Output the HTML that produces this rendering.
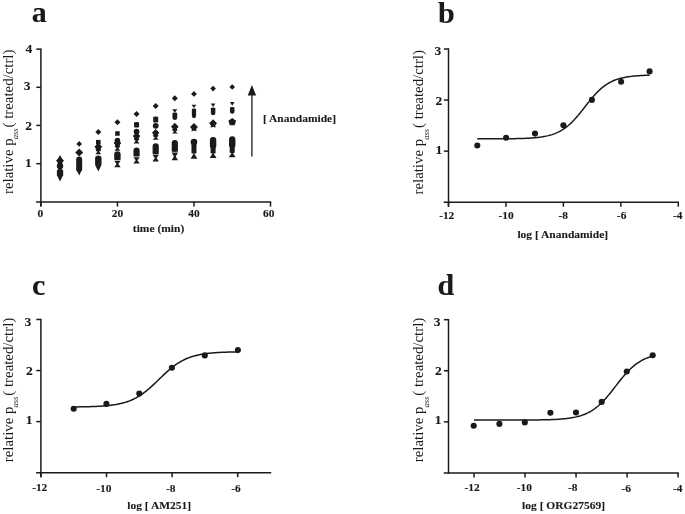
<!DOCTYPE html>
<html><head><meta charset="utf-8"><style>
html,body{margin:0;padding:0;background:#fff;}
svg{display:block;filter:blur(0.3px);font-family:"Liberation Serif",serif;fill:#1a1a1a;}
text[font-weight="bold"]{stroke:#1a1a1a;stroke-width:0.12px;}
</style></head><body>
<svg width="685" height="514" viewBox="0 0 685 514">
<rect width="685" height="514" fill="#fff"/>
<line x1="40.90" y1="48.40" x2="40.90" y2="206.60" stroke="#1a1a1a" stroke-width="1.5"/>
<line x1="36.30" y1="49.15" x2="40.90" y2="49.15" stroke="#1a1a1a" stroke-width="1.5"/>
<line x1="36.30" y1="87.30" x2="40.90" y2="87.30" stroke="#1a1a1a" stroke-width="1.5"/>
<line x1="36.30" y1="125.40" x2="40.90" y2="125.40" stroke="#1a1a1a" stroke-width="1.5"/>
<line x1="36.30" y1="163.70" x2="40.90" y2="163.70" stroke="#1a1a1a" stroke-width="1.5"/>
<line x1="36.10" y1="202.10" x2="271.25" y2="202.10" stroke="#1a1a1a" stroke-width="1.5"/>
<line x1="40.90" y1="202.10" x2="40.90" y2="206.60" stroke="#1a1a1a" stroke-width="1.5"/>
<line x1="117.43" y1="202.10" x2="117.43" y2="206.60" stroke="#1a1a1a" stroke-width="1.5"/>
<line x1="193.97" y1="202.10" x2="193.97" y2="206.60" stroke="#1a1a1a" stroke-width="1.5"/>
<line x1="270.50" y1="202.10" x2="270.50" y2="206.60" stroke="#1a1a1a" stroke-width="1.5"/>
<text x="25.51" y="52.84" font-size="13.5" font-weight="bold">4</text>
<text x="23.85" y="89.80" font-size="13.5" font-weight="bold">3</text>
<text x="25.23" y="129.67" font-size="13.5" font-weight="bold">2</text>
<text x="25.08" y="166.91" font-size="13.5" font-weight="bold">1</text>
<text x="37.40" y="216.99" font-size="11.4" font-weight="bold">0</text>
<text x="111.83" y="216.94" font-size="11.4" font-weight="bold">20</text>
<text x="188.34" y="217.09" font-size="11.4" font-weight="bold">40</text>
<text x="263.02" y="216.74" font-size="11.4" font-weight="bold">60</text>
<path d="M60.03,155.00L62.53,160.00L57.53,160.00Z" fill="#1a1a1a"/>
<polygon points="60.03,157.70 61.39,160.03 64.03,160.60 62.23,162.61 62.50,165.30 60.03,164.21 57.56,165.30 57.84,162.61 56.04,160.60 58.68,160.03" fill="#1a1a1a"/><polygon points="60.03,158.18 62.91,160.27 61.81,163.65 58.26,163.65 57.16,160.27" fill="#1a1a1a"/><path d="M60.03,156.62L63.81,160.40L60.03,164.18L56.25,160.40Z" fill="#1a1a1a"/>
<circle cx="60.03" cy="166.10" r="3.2" fill="#1a1a1a"/>
<path d="M57.03,166.60L63.03,166.60L60.93,168.60L63.03,170.60L57.03,170.60L59.13,168.60Z" fill="#1a1a1a"/>
<path d="M56.88,170.50A3.15,1.00 0 0 1 63.18,170.50L63.18,175.50A3.15,1.00 0 0 1 56.88,175.50Z" fill="#1a1a1a"/>
<path d="M60.03,181.50L63.18,175.10L56.88,175.10Z" fill="#1a1a1a"/>
<path d="M79.17,141.10L81.97,143.90L79.17,146.70L76.37,143.90Z" fill="#1a1a1a"/>
<path d="M79.17,148.50L83.17,152.50L79.17,156.50L75.17,152.50Z" fill="#1a1a1a"/>
<path d="M76.17,159.50A3.00,3.00 0 0 1 82.17,159.50L82.17,169.50A3.00,2.00 0 0 1 76.17,169.50Z" fill="#1a1a1a"/>
<path d="M79.17,175.40L82.17,169.20L76.17,169.20Z" fill="#1a1a1a"/>
<path d="M98.30,129.10L101.30,132.10L98.30,135.10L95.30,132.10Z" fill="#1a1a1a"/>
<rect x="96.00" y="139.90" width="4.60" height="4.60" fill="#1a1a1a"/>
<polygon points="98.30,144.00 99.63,146.28 102.20,146.83 100.44,148.80 100.71,151.42 98.30,150.35 95.89,151.42 96.16,148.80 94.40,146.83 96.97,146.28" fill="#1a1a1a"/><polygon points="98.30,144.45 101.11,146.49 100.04,149.79 96.56,149.79 95.49,146.49" fill="#1a1a1a"/><path d="M98.30,142.91L101.99,146.60L98.30,150.29L94.61,146.60Z" fill="#1a1a1a"/>
<path d="M95.30,149.30L101.30,149.30L99.20,151.80L101.30,154.30L95.30,154.30L97.40,151.80Z" fill="#1a1a1a"/>
<path d="M95.10,158.00A3.20,2.50 0 0 1 101.50,158.00L101.50,164.50A3.20,1.00 0 0 1 95.10,164.50Z" fill="#1a1a1a"/>
<path d="M98.30,171.50L101.50,164.90L95.10,164.90Z" fill="#1a1a1a"/>
<path d="M117.43,119.30L120.43,122.30L117.43,125.30L114.43,122.30Z" fill="#1a1a1a"/>
<rect x="115.18" y="131.25" width="4.50" height="4.50" fill="#1a1a1a"/>
<circle cx="117.43" cy="140.50" r="2.8" fill="#1a1a1a"/>
<polygon points="117.43,140.30 118.73,142.52 121.24,143.06 119.53,144.98 119.78,147.54 117.43,146.50 115.08,147.54 115.34,144.98 113.63,143.06 116.14,142.52" fill="#1a1a1a"/><polygon points="117.43,140.72 120.17,142.71 119.13,145.93 115.74,145.93 114.69,142.71" fill="#1a1a1a"/><path d="M117.43,139.20L121.03,142.80L117.43,146.40L113.83,142.80Z" fill="#1a1a1a"/>
<path d="M114.43,145.70L120.43,145.70L118.33,148.20L120.43,150.70L114.43,150.70L116.53,148.20Z" fill="#1a1a1a"/>
<path d="M114.23,154.20A3.20,3.00 0 0 1 120.63,154.20L120.63,159.70A3.20,0.50 0 0 1 114.23,159.70Z" fill="#1a1a1a"/>
<path d="M114.23,160.80L120.63,160.80L118.33,164.00L120.63,167.20L114.23,167.20L116.53,164.00Z" fill="#1a1a1a"/>
<path d="M136.57,111.10L139.57,114.10L136.57,117.10L133.57,114.10Z" fill="#1a1a1a"/>
<path d="M134.07,122.40A2.50,0.50 0 0 1 139.07,122.40L139.07,126.90A2.50,0.50 0 0 1 134.07,126.90Z" fill="#1a1a1a"/>
<circle cx="136.57" cy="131.60" r="2.9" fill="#1a1a1a"/>
<polygon points="136.57,133.40 137.83,135.56 140.28,136.09 138.61,137.96 138.86,140.46 136.57,139.45 134.27,140.46 134.53,137.96 132.86,136.09 135.31,135.56" fill="#1a1a1a"/><polygon points="136.57,133.79 139.24,135.73 138.22,138.87 134.92,138.87 133.90,135.73" fill="#1a1a1a"/><path d="M136.57,132.29L140.08,135.80L136.57,139.31L133.06,135.80Z" fill="#1a1a1a"/>
<path d="M133.57,138.50L139.57,138.50L137.47,141.00L139.57,143.50L133.57,143.50L135.67,141.00Z" fill="#1a1a1a"/>
<path d="M133.47,150.50A3.10,3.10 0 0 1 139.67,150.50L139.67,156.10A3.10,0.50 0 0 1 133.47,156.10Z" fill="#1a1a1a"/>
<path d="M133.37,157.20L139.77,157.20L137.47,160.30L139.77,163.40L133.37,163.40L135.67,160.30Z" fill="#1a1a1a"/>
<path d="M155.70,102.90L158.70,105.90L155.70,108.90L152.70,105.90Z" fill="#1a1a1a"/>
<path d="M153.20,117.00A2.50,0.50 0 0 1 158.20,117.00L158.20,122.00A2.50,0.50 0 0 1 153.20,122.00Z" fill="#1a1a1a"/>
<circle cx="155.70" cy="125.80" r="2.9" fill="#1a1a1a"/>
<polygon points="155.70,130.00 156.96,132.16 159.41,132.69 157.74,134.56 157.99,137.06 155.70,136.05 153.41,137.06 153.66,134.56 151.99,132.69 154.44,132.16" fill="#1a1a1a"/><polygon points="155.70,130.39 158.37,132.33 157.35,135.47 154.05,135.47 153.03,132.33" fill="#1a1a1a"/><path d="M155.70,128.89L159.21,132.40L155.70,135.91L152.19,132.40Z" fill="#1a1a1a"/>
<path d="M152.70,135.15L158.70,135.15L156.60,137.40L158.70,139.65L152.70,139.65L154.80,137.40Z" fill="#1a1a1a"/>
<path d="M152.60,146.40A3.10,3.10 0 0 1 158.80,146.40L158.80,153.70A3.10,0.50 0 0 1 152.60,153.70Z" fill="#1a1a1a"/>
<path d="M152.50,154.70L158.90,154.70L156.60,158.10L158.90,161.50L152.50,161.50L154.80,158.10Z" fill="#1a1a1a"/>
<path d="M174.83,95.20L177.83,98.20L174.83,101.20L171.83,98.20Z" fill="#1a1a1a"/>
<path d="M174.83,112.80L177.33,109.20L172.33,109.20Z" fill="#1a1a1a"/>
<path d="M172.43,112.90A2.40,0.50 0 0 1 177.23,112.90L177.23,117.80A2.40,2.20 0 0 1 172.43,117.80Z" fill="#1a1a1a"/>
<polygon points="174.83,123.90 176.13,126.12 178.64,126.66 176.93,128.58 177.18,131.14 174.83,130.10 172.48,131.14 172.74,128.58 171.03,126.66 173.54,126.12" fill="#1a1a1a"/><polygon points="174.83,124.32 177.57,126.31 176.53,129.53 173.14,129.53 172.09,126.31" fill="#1a1a1a"/><path d="M174.83,122.80L178.43,126.40L174.83,130.00L171.23,126.40Z" fill="#1a1a1a"/>
<path d="M172.08,129.50L177.58,129.50L175.73,131.50L177.58,133.50L172.08,133.50L173.93,131.50Z" fill="#1a1a1a"/>
<path d="M171.73,143.20A3.10,3.10 0 0 1 177.93,143.20L177.93,151.50A3.10,0.50 0 0 1 171.73,151.50Z" fill="#1a1a1a"/>
<path d="M171.63,152.50L178.03,152.50L175.73,156.40L178.03,160.30L171.63,160.30L173.93,156.40Z" fill="#1a1a1a"/>
<path d="M193.97,91.00L196.87,93.90L193.97,96.80L191.07,93.90Z" fill="#1a1a1a"/>
<path d="M193.97,108.10L196.37,104.70L191.57,104.70Z" fill="#1a1a1a"/>
<path d="M191.87,109.00A2.10,0.50 0 0 1 196.07,109.00L196.07,116.10A2.10,2.10 0 0 1 191.87,116.10Z" fill="#1a1a1a"/>
<polygon points="193.97,124.10 195.29,126.38 197.87,126.93 196.11,128.90 196.38,131.52 193.97,130.45 191.56,131.52 191.82,128.90 190.07,126.93 192.64,126.38" fill="#1a1a1a"/><polygon points="193.97,124.55 196.77,126.59 195.70,129.89 192.23,129.89 191.16,126.59" fill="#1a1a1a"/><path d="M193.97,123.01L197.66,126.70L193.97,130.39L190.28,126.70Z" fill="#1a1a1a"/>
<circle cx="193.97" cy="142.00" r="3.3" fill="#1a1a1a"/>
<path d="M191.47,142.00A2.50,1.00 0 0 1 196.47,142.00L196.47,153.00A2.50,0.50 0 0 1 191.47,153.00Z" fill="#1a1a1a"/>
<path d="M193.97,153.10L197.37,158.70L190.57,158.70Z" fill="#1a1a1a"/>
<path d="M213.10,85.80L215.90,88.60L213.10,91.40L210.30,88.60Z" fill="#1a1a1a"/>
<path d="M213.10,107.00L215.40,103.60L210.80,103.60Z" fill="#1a1a1a"/>
<path d="M210.85,108.10A2.25,0.50 0 0 1 215.35,108.10L215.35,113.00A2.25,2.20 0 0 1 210.85,113.00Z" fill="#1a1a1a"/>
<polygon points="213.10,120.40 214.43,122.68 217.00,123.23 215.24,125.20 215.51,127.82 213.10,126.75 210.69,127.82 210.96,125.20 209.20,123.23 211.77,122.68" fill="#1a1a1a"/><polygon points="213.10,120.85 215.91,122.89 214.84,126.19 211.36,126.19 210.29,122.89" fill="#1a1a1a"/><path d="M213.10,119.31L216.79,123.00L213.10,126.69L209.41,123.00Z" fill="#1a1a1a"/>
<path d="M209.90,140.20A3.20,3.20 0 0 1 216.30,140.20L216.30,146.00A3.20,2.50 0 0 1 209.90,146.00Z" fill="#1a1a1a"/>
<path d="M210.60,143.00A2.50,1.00 0 0 1 215.60,143.00L215.60,153.00A2.50,0.50 0 0 1 210.60,153.00Z" fill="#1a1a1a"/>
<path d="M213.10,152.50L216.50,157.90L209.70,157.90Z" fill="#1a1a1a"/>
<path d="M232.23,84.20L235.03,87.00L232.23,89.80L229.43,87.00Z" fill="#1a1a1a"/>
<path d="M232.23,105.70L234.53,102.10L229.93,102.10Z" fill="#1a1a1a"/>
<path d="M229.98,107.50A2.25,0.50 0 0 1 234.48,107.50L234.48,111.50A2.25,2.20 0 0 1 229.98,111.50Z" fill="#1a1a1a"/>
<polygon points="232.23,117.90 236.13,120.73 234.64,125.32 229.82,125.32 228.33,120.73" fill="#1a1a1a"/>
<path d="M229.03,139.40A3.20,3.20 0 0 1 235.43,139.40L235.43,145.50A3.20,2.50 0 0 1 229.03,145.50Z" fill="#1a1a1a"/>
<path d="M229.73,142.00A2.50,1.00 0 0 1 234.73,142.00L234.73,152.50A2.50,0.50 0 0 1 229.73,152.50Z" fill="#1a1a1a"/>
<path d="M232.23,152.00L235.63,157.20L228.83,157.20Z" fill="#1a1a1a"/>
<line x1="251.90" y1="156.40" x2="251.90" y2="94.00" stroke="#1a1a1a" stroke-width="1.3"/>
<path d="M251.9,85.0L256.1,95.6L247.7,95.6Z" fill="#1a1a1a"/>
<text transform="translate(262.90,121.90) scale(1,0.9)" font-size="11.5" font-weight="bold">[ Anandamide]</text>
<text transform="translate(132.85,232.30) scale(1,0.9)" font-size="11.5" font-weight="bold">time (min)</text>
<text transform="translate(12.60,194.00) rotate(-90)" font-size="14.85" font-weight="normal">relative p<tspan font-size="8.5" font-style="italic" dx="-0.9" dy="5.1">ass</tspan><tspan dx="0.9" dy="-5.1">( treated/ctrl)</tspan></text>
<text x="31.84" y="21.94" font-size="30.0" font-weight="bold">a</text>
<line x1="448.50" y1="48.24" x2="448.50" y2="206.70" stroke="#1a1a1a" stroke-width="1.5"/>
<line x1="443.90" y1="151.13" x2="448.50" y2="151.13" stroke="#1a1a1a" stroke-width="1.5"/>
<line x1="443.90" y1="100.06" x2="448.50" y2="100.06" stroke="#1a1a1a" stroke-width="1.5"/>
<line x1="443.90" y1="48.99" x2="448.50" y2="48.99" stroke="#1a1a1a" stroke-width="1.5"/>
<line x1="443.70" y1="202.20" x2="679.05" y2="202.20" stroke="#1a1a1a" stroke-width="1.5"/>
<line x1="448.50" y1="202.20" x2="448.50" y2="206.70" stroke="#1a1a1a" stroke-width="1.5"/>
<line x1="505.95" y1="202.20" x2="505.95" y2="206.70" stroke="#1a1a1a" stroke-width="1.5"/>
<line x1="563.40" y1="202.20" x2="563.40" y2="206.70" stroke="#1a1a1a" stroke-width="1.5"/>
<line x1="620.85" y1="202.20" x2="620.85" y2="206.70" stroke="#1a1a1a" stroke-width="1.5"/>
<line x1="678.30" y1="202.20" x2="678.30" y2="206.70" stroke="#1a1a1a" stroke-width="1.5"/>
<polyline points="477.23,138.86 478.37,138.86 479.52,138.86 480.67,138.86 481.82,138.86 482.97,138.86 484.12,138.85 485.27,138.85 486.42,138.85 487.57,138.85 488.72,138.84 489.86,138.84 491.01,138.84 492.16,138.84 493.31,138.83 494.46,138.83 495.61,138.82 496.76,138.82 497.91,138.81 499.06,138.81 500.21,138.80 501.35,138.79 502.50,138.79 503.65,138.78 504.80,138.77 505.95,138.76 507.10,138.75 508.25,138.74 509.40,138.72 510.55,138.71 511.69,138.69 512.84,138.68 513.99,138.66 515.14,138.64 516.29,138.61 517.44,138.59 518.59,138.56 519.74,138.53 520.89,138.50 522.04,138.46 523.18,138.42 524.33,138.38 525.48,138.33 526.63,138.28 527.78,138.22 528.93,138.16 530.08,138.09 531.23,138.02 532.38,137.94 533.53,137.85 534.67,137.75 535.82,137.65 536.97,137.53 538.12,137.41 539.27,137.27 540.42,137.12 541.57,136.95 542.72,136.77 543.87,136.58 545.02,136.37 546.16,136.13 547.31,135.88 548.46,135.61 549.61,135.31 550.76,134.99 551.91,134.64 553.06,134.26 554.21,133.85 555.36,133.41 556.51,132.93 557.65,132.41 558.80,131.86 559.95,131.26 561.10,130.62 562.25,129.94 563.40,129.20 564.55,128.42 565.70,127.59 566.85,126.71 568.00,125.78 569.14,124.79 570.29,123.75 571.44,122.67 572.59,121.52 573.74,120.34 574.89,119.10 576.04,117.82 577.19,116.50 578.34,115.14 579.49,113.75 580.63,112.33 581.78,110.89 582.93,109.43 584.08,107.96 585.23,106.48 586.38,105.01 587.53,103.55 588.68,102.10 589.83,100.66 590.98,99.26 592.12,97.88 593.27,96.54 594.42,95.24 595.57,93.98 596.72,92.77 597.87,91.60 599.02,90.49 600.17,89.42 601.32,88.41 602.47,87.45 603.62,86.55 604.76,85.69 605.91,84.88 607.06,84.13 608.21,83.42 609.36,82.76 610.51,82.14 611.66,81.56 612.81,81.03 613.96,80.53 615.11,80.07 616.25,79.65 617.40,79.25 618.55,78.89 619.70,78.55 620.85,78.24 622.00,77.96 623.15,77.69 624.30,77.45 625.45,77.23 626.60,77.03 627.74,76.84 628.89,76.67 630.04,76.51 631.19,76.37 632.34,76.23 633.49,76.11 634.64,76.00 635.79,75.90 636.94,75.81 638.09,75.72 639.23,75.65 640.38,75.58 641.53,75.51 642.68,75.45 643.83,75.40 644.98,75.35 646.13,75.30 647.28,75.26 648.43,75.22 649.58,75.19" fill="none" stroke="#1a1a1a" stroke-width="1.5"/>
<circle cx="477.30" cy="145.50" r="3.05" fill="#1a1a1a"/>
<circle cx="506.10" cy="137.70" r="3.05" fill="#1a1a1a"/>
<circle cx="535.00" cy="133.60" r="3.05" fill="#1a1a1a"/>
<circle cx="563.40" cy="125.20" r="3.05" fill="#1a1a1a"/>
<circle cx="591.90" cy="99.90" r="3.05" fill="#1a1a1a"/>
<circle cx="621.10" cy="81.80" r="3.05" fill="#1a1a1a"/>
<circle cx="649.60" cy="71.40" r="3.05" fill="#1a1a1a"/>
<text x="434.40" y="55.40" font-size="13.5" font-weight="bold">3</text>
<text x="435.48" y="104.77" font-size="13.5" font-weight="bold">2</text>
<text x="435.48" y="153.71" font-size="13.5" font-weight="bold">1</text>
<text x="439.14" y="218.57" font-size="11.4" font-weight="bold">-12</text>
<text x="498.51" y="218.84" font-size="11.4" font-weight="bold">-10</text>
<text x="558.53" y="218.84" font-size="11.4" font-weight="bold">-8</text>
<text x="616.86" y="218.77" font-size="11.4" font-weight="bold">-6</text>
<text x="672.95" y="218.80" font-size="11.4" font-weight="bold">-4</text>
<text transform="translate(517.43,238.20) scale(1,0.9)" font-size="11.5" font-weight="bold">log [ Anandamide]</text>
<text transform="translate(423.40,194.50) rotate(-90)" font-size="14.85" font-weight="normal">relative p<tspan font-size="8.5" font-style="italic" dx="-0.9" dy="5.1">ass</tspan><tspan dx="0.9" dy="-5.1">( treated/ctrl)</tspan></text>
<text x="437.98" y="22.76" font-size="30.0" font-weight="bold">b</text>
<line x1="40.90" y1="318.74" x2="40.90" y2="477.20" stroke="#1a1a1a" stroke-width="1.5"/>
<line x1="36.30" y1="421.63" x2="40.90" y2="421.63" stroke="#1a1a1a" stroke-width="1.5"/>
<line x1="36.30" y1="370.56" x2="40.90" y2="370.56" stroke="#1a1a1a" stroke-width="1.5"/>
<line x1="36.30" y1="319.49" x2="40.90" y2="319.49" stroke="#1a1a1a" stroke-width="1.5"/>
<line x1="36.10" y1="472.70" x2="271.25" y2="472.70" stroke="#1a1a1a" stroke-width="1.5"/>
<line x1="40.90" y1="472.70" x2="40.90" y2="477.20" stroke="#1a1a1a" stroke-width="1.5"/>
<line x1="106.50" y1="472.70" x2="106.50" y2="477.20" stroke="#1a1a1a" stroke-width="1.5"/>
<line x1="172.10" y1="472.70" x2="172.10" y2="477.20" stroke="#1a1a1a" stroke-width="1.5"/>
<line x1="237.70" y1="472.70" x2="237.70" y2="477.20" stroke="#1a1a1a" stroke-width="1.5"/>
<polyline points="73.70,406.94 74.79,406.93 75.89,406.91 76.98,406.90 78.07,406.89 79.17,406.87 80.26,406.86 81.35,406.84 82.45,406.82 83.54,406.80 84.63,406.78 85.73,406.75 86.82,406.73 87.91,406.70 89.01,406.67 90.10,406.64 91.19,406.60 92.29,406.57 93.38,406.53 94.47,406.48 95.57,406.44 96.66,406.39 97.75,406.33 98.85,406.27 99.94,406.21 101.03,406.14 102.13,406.07 103.22,405.99 104.31,405.91 105.41,405.82 106.50,405.72 107.59,405.61 108.69,405.50 109.78,405.38 110.87,405.25 111.97,405.10 113.06,404.95 114.15,404.79 115.25,404.62 116.34,404.43 117.43,404.23 118.53,404.02 119.62,403.79 120.71,403.54 121.81,403.28 122.90,403.00 123.99,402.70 125.09,402.38 126.18,402.04 127.27,401.67 128.37,401.29 129.46,400.88 130.55,400.44 131.65,399.98 132.74,399.49 133.83,398.98 134.93,398.43 136.02,397.86 137.11,397.25 138.21,396.62 139.30,395.95 140.39,395.25 141.49,394.52 142.58,393.76 143.67,392.97 144.77,392.15 145.86,391.30 146.95,390.42 148.05,389.51 149.14,388.58 150.23,387.62 151.33,386.64 152.42,385.64 153.51,384.62 154.61,383.59 155.70,382.55 156.79,381.49 157.89,380.43 158.98,379.37 160.07,378.31 161.17,377.25 162.26,376.19 163.35,375.15 164.45,374.12 165.54,373.10 166.63,372.10 167.73,371.12 168.82,370.16 169.91,369.23 171.01,368.32 172.10,367.44 173.19,366.59 174.29,365.77 175.38,364.98 176.47,364.22 177.57,363.49 178.66,362.79 179.75,362.12 180.85,361.49 181.94,360.88 183.03,360.31 184.13,359.76 185.22,359.24 186.31,358.76 187.41,358.30 188.50,357.86 189.59,357.45 190.69,357.06 191.78,356.70 192.87,356.36 193.97,356.04 195.06,355.74 196.15,355.46 197.25,355.20 198.34,354.95 199.43,354.72 200.53,354.51 201.62,354.31 202.71,354.12 203.81,353.95 204.90,353.79 205.99,353.63 207.09,353.49 208.18,353.36 209.27,353.24 210.37,353.13 211.46,353.02 212.55,352.92 213.65,352.83 214.74,352.75 215.83,352.67 216.93,352.60 218.02,352.53 219.11,352.47 220.21,352.41 221.30,352.35 222.39,352.30 223.49,352.26 224.58,352.21 225.67,352.17 226.77,352.14 227.86,352.10 228.95,352.07 230.05,352.04 231.14,352.01 232.23,351.99 233.33,351.96 234.42,351.94 235.51,351.92 236.61,351.90 237.70,351.88" fill="none" stroke="#1a1a1a" stroke-width="1.5"/>
<circle cx="73.70" cy="408.80" r="3.05" fill="#1a1a1a"/>
<circle cx="106.40" cy="403.90" r="3.05" fill="#1a1a1a"/>
<circle cx="139.30" cy="393.60" r="3.05" fill="#1a1a1a"/>
<circle cx="171.90" cy="367.70" r="3.05" fill="#1a1a1a"/>
<circle cx="204.80" cy="355.40" r="3.05" fill="#1a1a1a"/>
<circle cx="237.90" cy="350.10" r="3.05" fill="#1a1a1a"/>
<text x="24.60" y="325.50" font-size="13.5" font-weight="bold">3</text>
<text x="25.88" y="374.87" font-size="13.5" font-weight="bold">2</text>
<text x="25.68" y="423.81" font-size="13.5" font-weight="bold">1</text>
<text x="32.14" y="491.32" font-size="11.4" font-weight="bold">-12</text>
<text x="96.26" y="491.99" font-size="11.4" font-weight="bold">-10</text>
<text x="165.88" y="491.99" font-size="11.4" font-weight="bold">-8</text>
<text x="231.21" y="491.87" font-size="11.4" font-weight="bold">-6</text>
<text transform="translate(127.26,509.00) scale(1,0.9)" font-size="11.5" font-weight="bold">log [ AM251]</text>
<text transform="translate(12.60,462.20) rotate(-90)" font-size="14.85" font-weight="normal">relative p<tspan font-size="8.5" font-style="italic" dx="-0.9" dy="5.1">ass</tspan><tspan dx="0.9" dy="-5.1">( treated/ctrl)</tspan></text>
<text x="32.05" y="294.98" font-size="30.0" font-weight="bold">c</text>
<line x1="448.50" y1="318.94" x2="448.50" y2="473.65" stroke="#1a1a1a" stroke-width="1.5"/>
<line x1="443.90" y1="421.83" x2="448.50" y2="421.83" stroke="#1a1a1a" stroke-width="1.5"/>
<line x1="443.90" y1="370.76" x2="448.50" y2="370.76" stroke="#1a1a1a" stroke-width="1.5"/>
<line x1="443.90" y1="319.69" x2="448.50" y2="319.69" stroke="#1a1a1a" stroke-width="1.5"/>
<line x1="443.70" y1="472.90" x2="678.84" y2="472.90" stroke="#1a1a1a" stroke-width="1.5"/>
<line x1="474.01" y1="472.90" x2="474.01" y2="477.40" stroke="#1a1a1a" stroke-width="1.5"/>
<line x1="525.03" y1="472.90" x2="525.03" y2="477.40" stroke="#1a1a1a" stroke-width="1.5"/>
<line x1="576.05" y1="472.90" x2="576.05" y2="477.40" stroke="#1a1a1a" stroke-width="1.5"/>
<line x1="627.07" y1="472.90" x2="627.07" y2="477.40" stroke="#1a1a1a" stroke-width="1.5"/>
<line x1="678.09" y1="472.90" x2="678.09" y2="477.40" stroke="#1a1a1a" stroke-width="1.5"/>
<polyline points="474.01,420.09 475.20,420.09 476.39,420.09 477.58,420.09 478.77,420.09 479.96,420.09 481.15,420.09 482.34,420.09 483.53,420.09 484.72,420.09 485.91,420.09 487.11,420.09 488.30,420.09 489.49,420.09 490.68,420.09 491.87,420.09 493.06,420.09 494.25,420.09 495.44,420.09 496.63,420.09 497.82,420.09 499.01,420.08 500.20,420.08 501.39,420.08 502.58,420.08 503.77,420.08 504.96,420.08 506.15,420.08 507.34,420.08 508.53,420.07 509.72,420.07 510.91,420.07 512.10,420.07 513.30,420.07 514.49,420.06 515.68,420.06 516.87,420.06 518.06,420.05 519.25,420.05 520.44,420.05 521.63,420.04 522.82,420.04 524.01,420.03 525.20,420.03 526.39,420.02 527.58,420.01 528.77,420.00 529.96,420.00 531.15,419.99 532.34,419.98 533.53,419.97 534.72,419.95 535.91,419.94 537.10,419.93 538.30,419.91 539.49,419.89 540.68,419.87 541.87,419.85 543.06,419.83 544.25,419.80 545.44,419.78 546.63,419.75 547.82,419.71 549.01,419.68 550.20,419.64 551.39,419.59 552.58,419.55 553.77,419.50 554.96,419.44 556.15,419.38 557.34,419.31 558.53,419.24 559.72,419.16 560.91,419.07 562.10,418.97 563.29,418.87 564.49,418.75 565.68,418.63 566.87,418.49 568.06,418.34 569.25,418.18 570.44,418.01 571.63,417.81 572.82,417.60 574.01,417.38 575.20,417.13 576.39,416.86 577.58,416.57 578.77,416.25 579.96,415.91 581.15,415.54 582.34,415.14 583.53,414.70 584.72,414.24 585.91,413.73 587.10,413.19 588.29,412.60 589.49,411.97 590.68,411.30 591.87,410.58 593.06,409.82 594.25,409.00 595.44,408.13 596.63,407.21 597.82,406.23 599.01,405.20 600.20,404.12 601.39,402.98 602.58,401.79 603.77,400.56 604.96,399.27 606.15,397.93 607.34,396.56 608.53,395.14 609.72,393.69 610.91,392.22 612.10,390.71 613.29,389.19 614.49,387.66 615.68,386.12 616.87,384.59 618.06,383.06 619.25,381.54 620.44,380.04 621.63,378.56 622.82,377.12 624.01,375.71 625.20,374.34 626.39,373.01 627.58,371.73 628.77,370.50 629.96,369.32 631.15,368.19 632.34,367.12 633.53,366.10 634.72,365.13 635.91,364.21 637.10,363.35 638.29,362.54 639.48,361.78 640.68,361.07 641.87,360.40 643.06,359.78 644.25,359.20 645.44,358.66 646.63,358.16 647.82,357.70 649.01,357.27 650.20,356.87 651.39,356.51 652.58,356.17" fill="none" stroke="#1a1a1a" stroke-width="1.5"/>
<circle cx="473.70" cy="425.70" r="3.05" fill="#1a1a1a"/>
<circle cx="499.40" cy="423.90" r="3.05" fill="#1a1a1a"/>
<circle cx="524.80" cy="422.40" r="3.05" fill="#1a1a1a"/>
<circle cx="550.40" cy="412.70" r="3.05" fill="#1a1a1a"/>
<circle cx="576.00" cy="412.50" r="3.05" fill="#1a1a1a"/>
<circle cx="601.70" cy="401.90" r="3.05" fill="#1a1a1a"/>
<circle cx="626.80" cy="371.50" r="3.05" fill="#1a1a1a"/>
<circle cx="652.70" cy="355.20" r="3.05" fill="#1a1a1a"/>
<text x="433.75" y="325.70" font-size="13.5" font-weight="bold">3</text>
<text x="435.08" y="375.07" font-size="13.5" font-weight="bold">2</text>
<text x="434.78" y="423.81" font-size="13.5" font-weight="bold">1</text>
<text x="464.44" y="491.17" font-size="11.4" font-weight="bold">-12</text>
<text x="516.81" y="491.49" font-size="11.4" font-weight="bold">-10</text>
<text x="568.03" y="490.89" font-size="11.4" font-weight="bold">-8</text>
<text x="621.41" y="491.52" font-size="11.4" font-weight="bold">-6</text>
<text x="673.05" y="491.55" font-size="11.4" font-weight="bold">-4</text>
<text transform="translate(522.09,509.30) scale(1,0.9)" font-size="11.5" font-weight="bold">log [ ORG27569]</text>
<text transform="translate(423.40,462.20) rotate(-90)" font-size="14.85" font-weight="normal">relative p<tspan font-size="8.5" font-style="italic" dx="-0.9" dy="5.1">ass</tspan><tspan dx="0.9" dy="-5.1">( treated/ctrl)</tspan></text>
<text x="437.57" y="295.46" font-size="30.0" font-weight="bold">d</text>
</svg>
</body></html>
